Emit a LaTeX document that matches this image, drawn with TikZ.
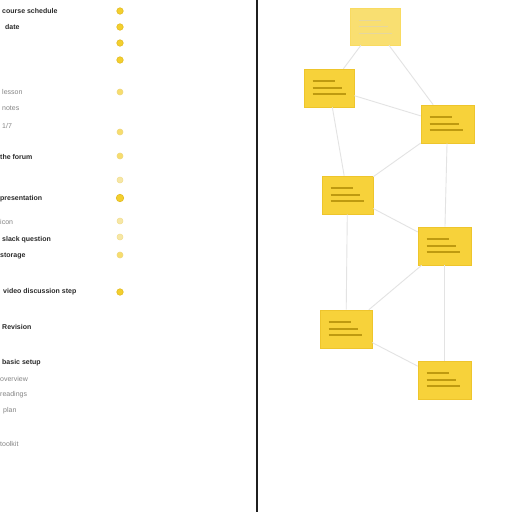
\documentclass[tikz,border=0pt]{standalone}
\usepackage{fontspec}
\setmainfont{Liberation Sans}
\definecolor{noteY}{HTML}{F7D23A}
\definecolor{noteB}{HTML}{EEC52C}
\definecolor{noteL}{HTML}{BE9A10}
\definecolor{dotY}{HTML}{F3CF2E}
\definecolor{dotB}{HTML}{E4BC22}
\definecolor{dotP}{HTML}{F6E7A6}
\definecolor{conn}{HTML}{E3E3E3}
\definecolor{txtD}{HTML}{2A2A2A}
\definecolor{txtG}{HTML}{858585}
\tikzset{
  note/.style={draw=noteB, fill=noteY, line width=0.6pt, minimum width=52pt, minimum height=38pt, inner sep=0pt},
  notelight/.style={note, fill=noteY!72, draw=noteY!80},
  link/.style={draw=conn, line width=0.9pt},
  itemD/.style={anchor=west, text=txtD, font=\fontsize{7}{8}\selectfont\bfseries, inner sep=0pt},
  itemG/.style={anchor=west, text=txtG, font=\fontsize{7}{8}\selectfont, inner sep=0pt},
  dotbright/.style={circle, fill=dotY, draw=dotB, line width=0.6pt, minimum size=6.5pt, inner sep=0pt},
  dotmid/.style={circle, fill=dotY!70, draw=dotB!60, line width=0.6pt, minimum size=6pt, inner sep=0pt},
  dotpale/.style={circle, fill=dotP, draw=dotP!80!dotB, line width=0.5pt, minimum size=6pt, inner sep=0pt},
  nline/.style={draw=noteL, line width=1.8pt},
  nlinelight/.style={draw=noteL!40, line width=1.4pt}
}
\begin{document}
\begin{tikzpicture}[x=1pt,y=-1pt]
\useasboundingbox (0,0) rectangle (512,512);
\fill[white] (0,0) rectangle (512,512);
% divider
\coordinate (divtop) at (257,0);
\coordinate (divbot) at (257,512);
\draw[line width=2pt, color=black!88] (divtop) -- (divbot);

% left list texts
\node[itemD] (t1) at (2,11) {course schedule};
\node[itemD] (t2) at (5,27) {date};
\node[itemG] (t5) at (2,92) {lesson};
\node[itemG] (t6) at (2,108) {notes};
\node[itemG] (t7) at (2,126) {1/7};
\node[itemD] (t8) at (0,157) {the forum};
\node[itemD] (t10) at (0,199) {presentation};
\node[itemG] (t11) at (0,222) {icon};
\node[itemD] (t12) at (2,240) {slack question};
\node[itemD] (t13) at (0,256) {storage};
\node[itemD] (t14) at (3,292) {video discussion step};
\node[itemD] (t15) at (2,327) {Revision};
\node[itemD] (t16) at (2,363) {basic setup};
\node[itemG] (t17) at (0,379) {overview};
\node[itemG] (t18) at (0,395) {readings};
\node[itemG] (t19) at (3,411) {plan};
\node[itemG] (t20) at (0,444) {toolkit};

% dots
\node[dotbright] (d1) at (120,11) {};
\node[dotbright] (d2) at (120,27) {};
\node[dotbright] (d3) at (120,43) {};
\node[dotbright] (d4) at (120,60) {};
\node[dotmid] (d5) at (120,92) {};
\node[dotmid] (d6) at (120,132) {};
\node[dotmid] (d7) at (120,156) {};
\node[dotpale] (d8) at (120,180) {};
\node[dotbright, minimum size=7.5pt] (d9) at (120,198) {};
\node[dotpale] (d10) at (120,221) {};
\node[dotpale] (d11) at (120,237) {};
\node[dotmid] (d12) at (120,255) {};
\node[dotbright] (d13) at (120,292) {};

% notes
\node[notelight, minimum width=50pt, minimum height=37pt] (A) at (375,26.5) {};
\node[note, minimum width=50pt] (B) at (329,88) {};
\node[note, minimum width=53pt] (C) at (447.5,124) {};
\node[note, minimum width=51pt] (D) at (347.5,195) {};
\node[note, minimum width=53pt] (E) at (444.5,246) {};
\node[note, minimum width=52pt] (F) at (346,329) {};
\node[note, minimum width=53pt] (G) at (444.5,380) {};

% connectors
\draw[link] (A) -- (B);
\draw[link] (A) -- (C);
\draw[link] (B) -- (C);
\draw[link] (B) -- (D);
\draw[link] (C) -- (D);
\draw[link] (C) -- (E);
\draw[link] (D) -- (E);
\draw[link] (D) -- (F);
\draw[link] (E) -- (F);
\draw[link] (E) -- (G);
\draw[link] (F) -- (G);

% lines in notes
\foreach \n in {B,C,D,E,F,G}{
  \draw[nline] ([xshift=9pt,yshift=-12.5pt]\n.north west) -- ++(22,0);
  \draw[nline] ([xshift=9pt,yshift=-19pt]\n.north west) -- ++(29,0);
  \draw[nline] ([xshift=9pt,yshift=-25.5pt]\n.north west) -- ++(33,0);
}
\draw[nlinelight] ([xshift=9pt,yshift=-12.5pt]A.north west) -- ++(22,0);
\draw[nlinelight] ([xshift=9pt,yshift=-19pt]A.north west) -- ++(29,0);
\draw[nlinelight] ([xshift=9pt,yshift=-25.5pt]A.north west) -- ++(33,0);
\end{tikzpicture}
\end{document}
